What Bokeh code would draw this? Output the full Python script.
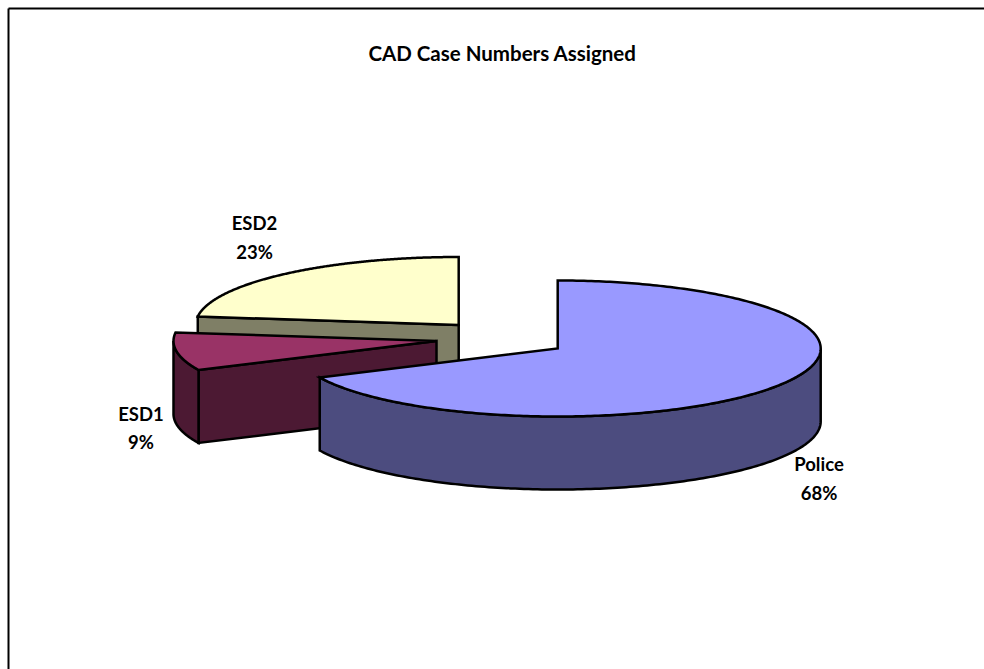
import numpy as np
from bokeh.plotting import figure
from bokeh.models import Range1d
from bokeh.core.properties import value
from bokeh.embed import file_html
from bokeh.resources import INLINE

# data
title = "CAD Case Numbers Assigned"
categories = ["Police", "ESD1", "ESD2"]
shares = [68, 9, 23]
top_colors = ["#9999FF", "#993366", "#FFFFCC"]
side_colors = ["#4C4C7F", "#4C1933", "#7F7F66"]

# layout (page pixels)
centers = {"Police": (557.2, 348), "ESD1": (436, 340.5), "ESD2": (458.2, 324.5)}
label_pos = {"Police": (818.5, 463.5, 492.5), "ESD1": (140.5, 413.5, 441.5), "ESD2": (254, 222.5, 251.5)}
RX, RY, DEPTH = 263, 68, 73

p = figure(width=984, height=669, output_backend="svg", toolbar_location=None,
           x_range=Range1d(0, 984), y_range=Range1d(669, 0),
           min_border=0, background_fill_color="white")
p.axis.visible = False
p.grid.visible = False
p.outline_line_color = None

# chart-area border: only the top and left edges fall inside the page
p.line([8, 984], [8, 8], line_color="black", line_width=2)
p.line([8, 8], [8, 669], line_color="black", line_width=2)


def rim(cx, cy, deg):
    t = np.radians(deg)
    return cx + RX * np.sin(t), cy - RY * np.cos(t)


def draw(xs, ys, color):
    p.patch(list(xs), list(ys), fill_color=color, line_color="black",
            line_width=2.5, line_join="miter")


# start angle of every slice, clockwise from twelve o'clock
starts = np.concatenate([[0], np.cumsum(shares)[:-1]]) * 3.6
ends = np.cumsum(shares) * 3.6

# back to front so the large slice overlaps the others
for i in [2, 1, 0]:
    name = categories[i]
    cx, cy = centers[name]
    a0, a1 = starts[i], ends[i]

    # flat wall along the radius that faces the viewer
    if name != "Police":
        rx, ry = rim(cx, cy, a0)
        draw([cx, rx, rx, cx], [cy, ry, ry + DEPTH, cy + DEPTH], side_colors[i])

    # curved outer wall: only the near half of the rim (90..270 degrees)
    lo, hi = max(a0, 90), min(a1, 270)
    if hi > lo:
        th = np.linspace(lo, hi, 160)
        ax, ay = rim(cx, cy, th)
        draw(np.r_[ax, ax[::-1]], np.r_[ay, (ay + DEPTH)[::-1]], side_colors[i])

    # top face
    th = np.linspace(a0, a1, 300)
    tx, ty = rim(cx, cy, th)
    draw(np.r_[cx, tx], np.r_[cy, ty], top_colors[i])

font = value("Lato")
p.text([502], [52.5], text=[title], text_font=font, text_font_style="bold",
       text_font_size="20.5px", text_align="center", text_baseline="middle", text_color="black")
for name, share in zip(categories, shares):
    x, y1, y2 = label_pos[name]
    p.text([x, x], [y1, y2], text=[name, f"{share}%"], text_font=font, text_font_style="bold",
           text_font_size="18.5px", text_align="center", text_baseline="middle", text_color="black")

open("out.html", "w").write(file_html(p, INLINE))
